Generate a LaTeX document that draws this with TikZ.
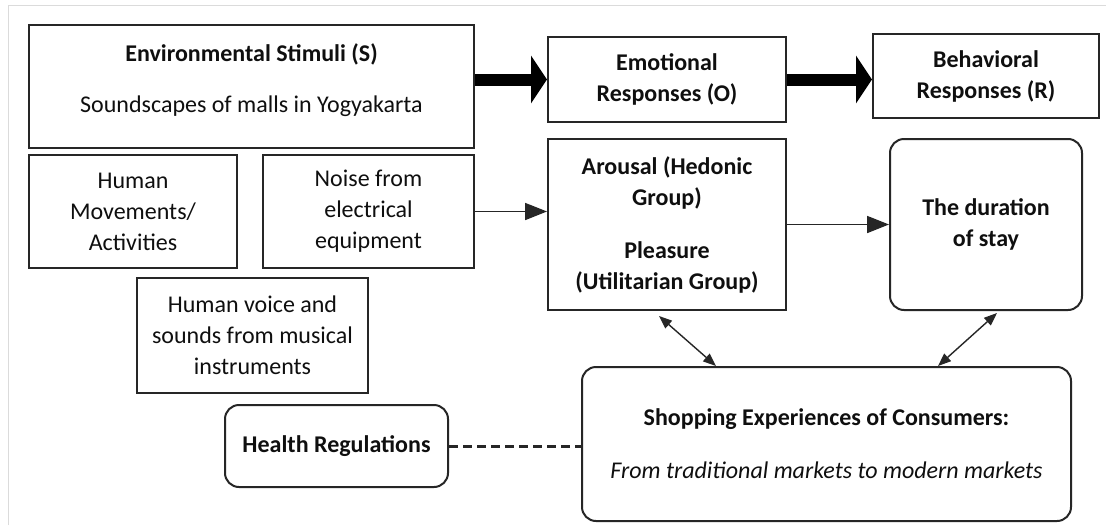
\documentclass[tikz,border=0pt]{standalone}
\usepackage{fontspec}
\setmainfont{Carlito}
\usetikzlibrary{arrows.meta,calc}
\definecolor{boxc}{gray}{0.15}
\definecolor{txtc}{gray}{0.06}
\definecolor{framec}{gray}{0.86}
\begin{document}
\begin{tikzpicture}[x=1pt,y=-1pt,
  box/.style={draw=boxc, line width=2pt, rectangle, align=center, inner sep=0pt, text=txtc},
  rbox/.style={box, rounded corners=14pt},
  bigarrow/.style={line width=12pt, draw=black, -{Triangle[length=16pt,width=47pt]}},
  thinarrow/.style={line width=1.8pt, draw=boxc, -{Triangle[length=22pt,width=17pt]}},
  twoway/.style={line width=1.4pt, draw=boxc, {Triangle[length=13pt,width=10pt]}-{Triangle[length=13pt,width=10pt]}},
  dashlink/.style={line width=3pt, draw=boxc, dash pattern=on 9pt off 5pt},
  font=\fontsize{24}{31}\selectfont]
\useasboundingbox (0,0) rectangle (1106,525);
\fill[white] (0,0) rectangle (1106,525);
\draw[framec, line width=1pt] (8,525) -- (8,5) -- (1106,5);

\node[box, minimum width=445pt, minimum height=123pt, text depth=17pt] (env) at (251.5,86.5)
  {\textbf{Environmental Stimuli (S)}\\[20pt]Soundscapes of malls in Yogyakarta};
\node[box, minimum width=238pt, minimum height=85pt] (emo) at (667,79.5)
  {\textbf{Emotional}\\\textbf{Responses (O)}};
\node[box, minimum width=226pt, minimum height=84pt] (beh) at (986,76)
  {\textbf{Behavioral}\\\textbf{Responses (R)}};
\node[box, minimum width=208pt, minimum height=113pt] (human) at (133,211.5)
  {Human\\Movements/\\Activities};
\node[box, minimum width=211pt, minimum height=113pt] (noise) at (368.5,211.5)
  {Noise from\\electrical\\equipment};
\node[box, minimum width=231pt, minimum height=115pt] (voice) at (252.5,335.5)
  {Human voice and\\sounds from musical\\instruments};
\node[box, minimum width=238pt, minimum height=171pt] (arousal) at (667,224.5)
  {\textbf{Arousal (Hedonic}\\\textbf{Group)}\\[22pt]\textbf{Pleasure}\\\textbf{(Utilitarian Group)}};
\node[rbox, minimum width=192pt, minimum height=171pt] (dur) at (986,224.5)
  {\textbf{The duration}\\\textbf{of stay}};
\node[rbox, minimum width=223pt, minimum height=82pt] (health) at (336.5,446)
  {\textbf{Health Regulations}};
\node[rbox, minimum width=489pt, minimum height=154pt] (shop) at (826.5,444)
  {\textbf{Shopping Experiences of Consumers:}\\[22pt]\textit{From traditional markets to modern markets}};

\draw[bigarrow] (emo.west -| env.east) -- (emo.west);
\draw[bigarrow] (emo.east) -- (emo.east -| beh.west);
\draw[thinarrow] (noise.east) -- (noise.east -| arousal.west);
\draw[thinarrow] (arousal.east) -- (dur.west);
\draw[twoway] ($(arousal.south)+(-8,5)$) -- ($(shop.north west)+(135,0)$);
\draw[twoway] ($(dur.south)+(11,2)$) -- ($(shop.north west)+(357,0)$);
\draw[dashlink] (health.east) -- (health.east -| shop.west);
\end{tikzpicture}
\end{document}
